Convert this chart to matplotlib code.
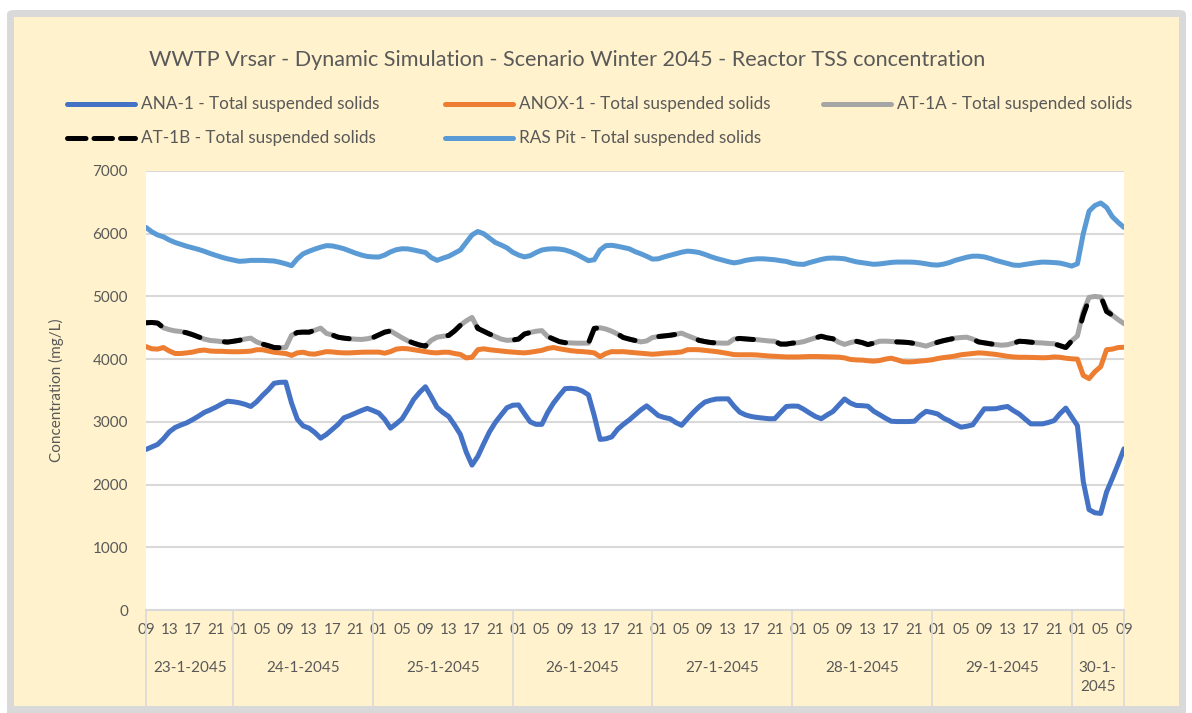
import matplotlib
matplotlib.use("Agg")
import matplotlib.pyplot as plt
from matplotlib.lines import Line2D
from matplotlib.patches import Rectangle, FancyBboxPatch
import matplotlib.transforms as mtransforms
import numpy as np

plt.rcParams['font.family'] = ['Lato', 'DejaVu Sans']

title = "WWTP Vrsar - Dynamic Simulation - Scenario Winter 2045 - Reactor TSS concentration"
series_names = ["ANA-1 - Total suspended solids", "ANOX-1 - Total suspended solids",
                "AT-1A - Total suspended solids", "AT-1B - Total suspended solids",
                "RAS Pit - Total suspended solids"]

# hourly values from 23-1-2045 09:00 to 30-1-2045 09:00 (169 points)
ana_1 = [2560, 2600, 2640, 2730, 2840, 2910, 2950, 2985, 3035, 3090, 3150, 3190, 3234, 3285, 3330, 3320,
         3305, 3280, 3245, 3320, 3420, 3510, 3615, 3630, 3633, 3300, 3040, 2935, 2900, 2830, 2740, 2800,
         2880, 2960, 3065, 3100, 3140, 3180, 3215, 3180, 3140, 3040, 2900, 2970, 3050, 3200, 3360, 3470,
         3560, 3400, 3230, 3150, 3085, 2950, 2800, 2520, 2310, 2450, 2650, 2840, 2990, 3110, 3225, 3265,
         3270, 3130, 3000, 2960, 2960, 3150, 3300, 3420, 3530, 3535, 3525, 3490, 3430, 3100, 2720, 2730,
         2760, 2880, 2960, 3030, 3110, 3190, 3255, 3180, 3100, 3070, 3050, 2990, 2945, 3050, 3150, 3240,
         3315, 3345, 3365, 3367, 3367, 3250, 3154, 3110, 3085, 3070, 3060, 3050, 3050, 3150, 3245, 3252,
         3250, 3200, 3140, 3085, 3050, 3110, 3165, 3265, 3365, 3300, 3262, 3258, 3250, 3170, 3115, 3060,
         3010, 3005, 3005, 3005, 3010, 3100, 3168, 3150, 3125, 3060, 3015, 2960, 2915, 2930, 2952, 3080,
         3208, 3208, 3210, 3230, 3245, 3180, 3125, 3045, 2968, 2968, 2968, 2990, 3020, 3130, 3220, 3080,
         2940, 2050, 1600, 1550, 1540, 1880, 2100, 2330, 2570]

anox_1 = [4200, 4165, 4160, 4185, 4130, 4090, 4090, 4100, 4112, 4135, 4145, 4130, 4125, 4125, 4120, 4118,
          4118, 4122, 4128, 4150, 4150, 4130, 4110, 4100, 4090, 4060, 4100, 4110, 4085, 4080, 4100, 4120,
          4115, 4105, 4100, 4100, 4105, 4110, 4112, 4112, 4112, 4095, 4120, 4160, 4170, 4165, 4150, 4135,
          4120, 4105, 4100, 4110, 4110, 4090, 4075, 4020, 4030, 4150, 4165, 4150, 4140, 4130, 4120, 4112,
          4105, 4100, 4110, 4125, 4140, 4170, 4185, 4165, 4150, 4135, 4125, 4120, 4112, 4100, 4040, 4090,
          4120, 4118, 4120, 4110, 4102, 4095, 4085, 4078, 4085, 4095, 4100, 4105, 4115, 4150, 4152, 4150,
          4140, 4130, 4120, 4105, 4090, 4072, 4070, 4070, 4070, 4066, 4058, 4050, 4045, 4040, 4035, 4035,
          4035, 4038, 4042, 4042, 4040, 4037, 4035, 4032, 4020, 3995, 3988, 3985, 3975, 3968, 3978, 4000,
          4015, 3990, 3960, 3955, 3960, 3970, 3978, 3990, 4010, 4025, 4035, 4050, 4070, 4080, 4090, 4100,
          4095, 4085, 4075, 4060, 4045, 4035, 4030, 4030, 4028, 4025, 4022, 4025, 4035, 4030, 4015, 4005,
          4000, 3740, 3690, 3800, 3880, 4150, 4160, 4185, 4190]

at_1a = [4580, 4585, 4575, 4500, 4470, 4450, 4440, 4420, 4390, 4355, 4320, 4298, 4290, 4280, 4272, 4285,
         4300, 4320, 4335, 4275, 4240, 4215, 4185, 4182, 4186, 4380, 4425, 4431, 4430, 4460, 4495, 4410,
         4385, 4350, 4335, 4325, 4318, 4314, 4325, 4345, 4388, 4430, 4450, 4395, 4340, 4290, 4255, 4225,
         4207, 4300, 4350, 4365, 4378, 4450, 4540, 4610, 4665, 4490, 4445, 4400, 4360, 4320, 4300, 4305,
         4320, 4400, 4425, 4445, 4455, 4360, 4320, 4280, 4262, 4258, 4255, 4255, 4255, 4490, 4500, 4480,
         4445, 4400, 4345, 4320, 4298, 4275, 4290, 4345, 4360, 4370, 4380, 4395, 4415, 4375, 4340, 4300,
         4280, 4265, 4258, 4255, 4255, 4320, 4330, 4322, 4315, 4310, 4300, 4290, 4285, 4240, 4240, 4255,
         4262, 4280, 4310, 4340, 4365, 4340, 4325, 4270, 4235, 4265, 4285, 4265, 4232, 4255, 4285, 4287,
         4282, 4275, 4271, 4265, 4250, 4230, 4208, 4240, 4270, 4295, 4315, 4335, 4345, 4350, 4320, 4275,
         4260, 4245, 4232, 4222, 4230, 4255, 4285, 4280, 4270, 4262, 4258, 4250, 4245, 4215, 4185, 4290,
         4370, 4760, 4985, 5000, 4990, 4800, 4700, 4630, 4565]

at_1b = [4580, 4585, 4575, 4500, 4470, 4450, 4440, 4420, 4390, 4355, 4320, 4298, 4290, 4280, 4272, 4285,
         4300, 4320, 4335, 4275, 4240, 4215, 4185, 4182, 4186, 4380, 4425, 4431, 4430, 4460, 4495, 4410,
         4385, 4350, 4335, 4325, 4318, 4314, 4325, 4345, 4388, 4430, 4450, 4395, 4340, 4290, 4255, 4225,
         4207, 4300, 4350, 4365, 4378, 4450, 4540, 4610, 4665, 4490, 4445, 4400, 4360, 4320, 4300, 4305,
         4320, 4400, 4425, 4445, 4455, 4360, 4320, 4280, 4262, 4258, 4255, 4255, 4255, 4490, 4500, 4480,
         4445, 4400, 4345, 4320, 4298, 4275, 4290, 4345, 4360, 4370, 4380, 4395, 4415, 4375, 4340, 4300,
         4280, 4265, 4258, 4255, 4255, 4320, 4330, 4322, 4315, 4310, 4300, 4290, 4285, 4240, 4240, 4255,
         4262, 4280, 4310, 4340, 4365, 4340, 4325, 4270, 4235, 4265, 4285, 4265, 4232, 4255, 4285, 4287,
         4282, 4275, 4271, 4265, 4250, 4230, 4208, 4240, 4270, 4295, 4315, 4335, 4345, 4350, 4320, 4275,
         4260, 4245, 4232, 4222, 4230, 4255, 4285, 4280, 4270, 4262, 4258, 4250, 4245, 4215, 4185, 4290,
         4370, 4700, 4960, 4990, 5010, 4760, 4700, 4630, 4565]

ras_pit = [6100, 6030, 5980, 5950, 5900, 5860, 5830, 5800, 5775, 5750, 5720, 5685, 5655, 5625, 5600, 5580,
           5560, 5565, 5575, 5575, 5575, 5570, 5565, 5545, 5520, 5490, 5600, 5680, 5720, 5755, 5785, 5810,
           5805, 5785, 5760, 5725, 5690, 5660, 5638, 5630, 5628, 5660, 5710, 5745, 5760, 5758, 5740, 5720,
           5700, 5620, 5575, 5610, 5640, 5690, 5740, 5860, 5980, 6035, 6000, 5930, 5860, 5820, 5775, 5705,
           5660, 5630, 5650, 5700, 5740, 5755, 5760, 5755, 5740, 5710, 5670, 5620, 5570, 5585, 5740, 5810,
           5815, 5800, 5780, 5760, 5715, 5680, 5640, 5595, 5600, 5630, 5655, 5680, 5705, 5722, 5715, 5700,
           5670, 5635, 5605, 5580, 5555, 5535, 5550, 5575, 5590, 5600, 5600, 5592, 5585, 5570, 5558, 5530,
           5515, 5511, 5540, 5565, 5590, 5608, 5612, 5608, 5600, 5575, 5552, 5538, 5525, 5512, 5518, 5530,
           5542, 5548, 5548, 5548, 5545, 5535, 5520, 5505, 5500, 5515, 5540, 5575, 5600, 5625, 5642, 5642,
           5630, 5605, 5574, 5550, 5525, 5500, 5495, 5510, 5525, 5538, 5548, 5545, 5540, 5532, 5510, 5484,
           5520, 6000, 6360, 6450, 6490, 6420, 6270, 6180, 6100]

first_day_hours = ["09", "13", "17", "21"]
day_hours = ["01", "05", "09", "13", "17", "21"]
last_day_hours = ["01", "05", "09"]
hour_labels = first_day_hours + day_hours * 6 + last_day_hours
day_labels = ["23-1-2045", "24-1-2045", "25-1-2045", "26-1-2045", "27-1-2045",
              "28-1-2045", "29-1-2045", "30-1-\n2045"]
day_bounds = [0, 15, 39, 63, 87, 111, 135, 159, 168]   # hour index where each day starts
y_ticks = [0, 1000, 2000, 3000, 4000, 5000, 6000, 7000]

colors = ["#4472C4", "#ED7D31", "#A5A5A5", "#000000", "#5B9BD5"]
TXT = "#595959"
GRID = "#D9D9D9"

W, H = 1192, 713
fig = plt.figure(figsize=(W / 100, H / 100), dpi=100)
fig.patch.set_facecolor("white")

def fx(px):
    return px / W

def fy(py):
    return 1 - py / H

# frame
fig.add_artist(FancyBboxPatch((fx(7), fy(720)), fx(1186) - fx(7), fy(10) - fy(720),
                              boxstyle="round,pad=0,rounding_size=0.006",
                              transform=fig.transFigure, facecolor=GRID, edgecolor="none", zorder=0))
fig.add_artist(Rectangle((fx(14), fy(706)), fx(1179) - fx(14), fy(17) - fy(706),
                         transform=fig.transFigure, facecolor="#FFF2CC", edgecolor="none", zorder=0))

ax = fig.add_axes([fx(146), fy(610), fx(1124) - fx(146), fy(171) - fy(610)])
ax.set_facecolor("white")
x = np.arange(len(ana_1))
data = [ana_1, anox_1, at_1a, at_1b, ras_pit]
lines = []
for name, vals, c in zip(series_names, data, colors):
    ls = (0, (3.2, 5.0)) if c == "#000000" else "-"
    ln, = ax.plot(x, vals, color=c, lw=3.6, linestyle=ls, solid_capstyle="round",
                  dash_capstyle="round", solid_joinstyle="round", label=name, zorder=3)
    lines.append(ln)

ax.set_xlim(0, len(ana_1) - 1)
ax.set_ylim(0, 7000)
ax.set_yticks(y_ticks)
ax.set_yticklabels([str(v) for v in y_ticks])
ax.yaxis.grid(True, color=GRID, lw=1.5, zorder=0)
ax.set_axisbelow(True)
for s in ["top", "left", "right"]:
    ax.spines[s].set_visible(False)
ax.spines["bottom"].set_color(GRID)
ax.spines["bottom"].set_linewidth(1.5)
ax.tick_params(axis="y", length=0, pad=13, labelsize=11, labelcolor=TXT)
ax.set_xticks(np.arange(0, len(ana_1), 4))
ax.set_xticklabels(hour_labels)
ax.tick_params(axis="x", length=0, pad=9, labelsize=11, labelcolor=TXT)

trans = mtransforms.blended_transform_factory(ax.transData, ax.transAxes)
ax_h = 610 - 171
for b in day_bounds:
    ax.plot([b, b], [0, -(706 - 610) / ax_h], transform=trans, color=GRID, lw=1.2, clip_on=False)
for lab, a, b in zip(day_labels, day_bounds[:-1], day_bounds[1:]):
    ax.text((a + b) / 2, -(661 - 610) / ax_h, lab, transform=trans, ha="center", va="top",
            fontsize=11, color=TXT, linespacing=1.45)

fig.text(fx(56), fy(390), "Concentration (mg/L)", rotation=90, ha="center", va="center",
         fontsize=11, color=TXT)
fig.text(fx(567), fy(60), title, ha="center", va="center", fontsize=15.6, color=TXT)

# legend (Excel-like, row-major)
leg_pos = [(65, 104), (443, 104), (821, 104), (65, 138), (443, 138)]
for ln, (lx, ly) in zip(lines, leg_pos):
    fig.add_artist(Line2D([fx(lx + 2), fx(lx + 70)], [fy(ly), fy(ly)], transform=fig.transFigure,
                          color=ln.get_color(), lw=3.6, linestyle=ln.get_linestyle(),
                          solid_capstyle="round", dash_capstyle="round"))
    fig.text(fx(lx + 76), fy(ly), ln.get_label(), ha="left", va="center", fontsize=12.3, color=TXT)

fig.savefig("out.png", dpi=100, facecolor="white")
